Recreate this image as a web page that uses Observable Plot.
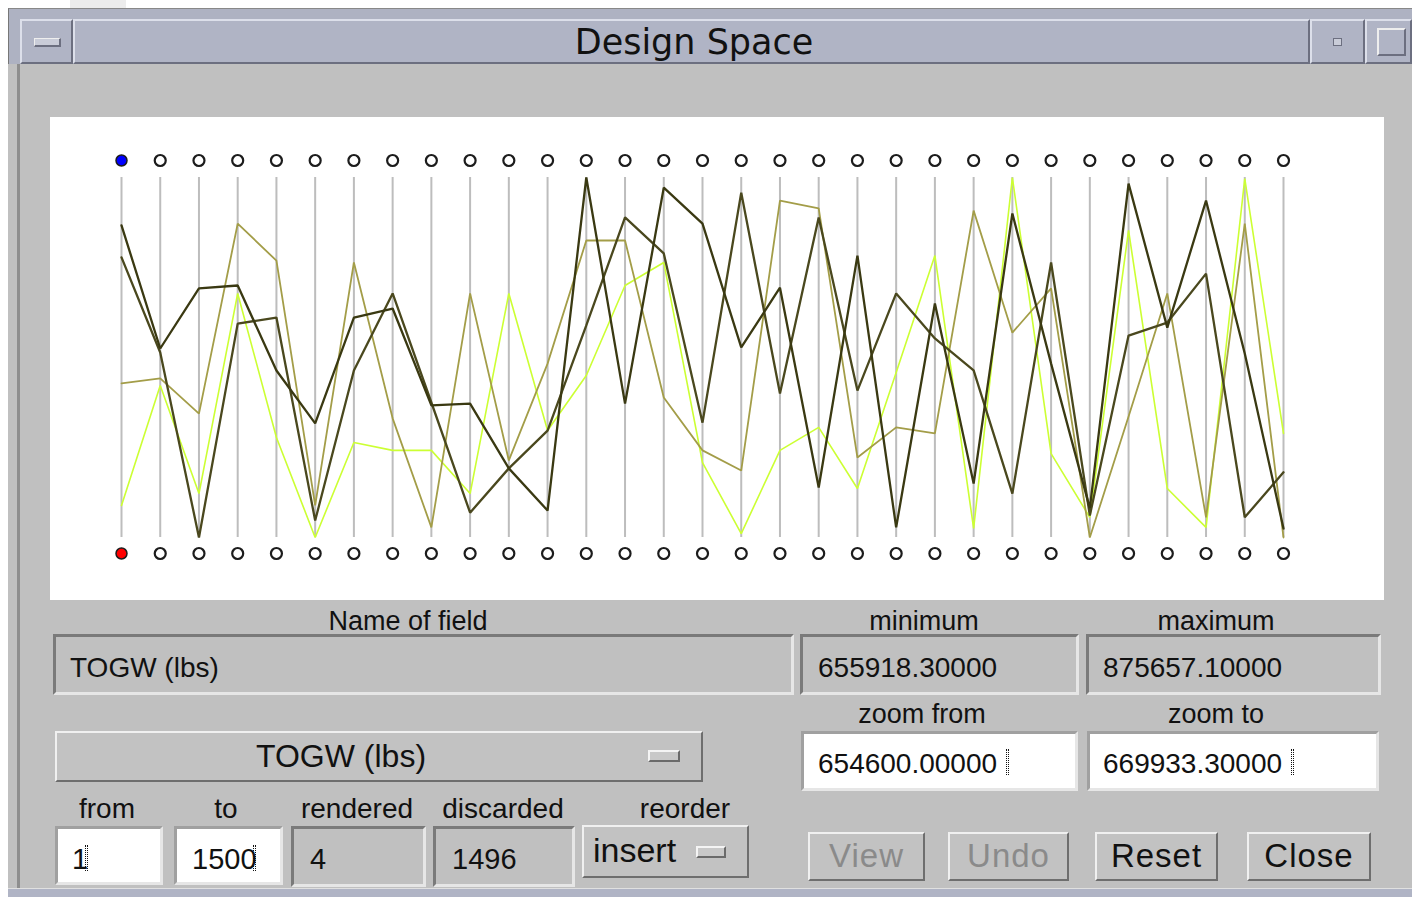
<!DOCTYPE html>
<html><head><meta charset="utf-8">
<script src="https://cdn.jsdelivr.net/npm/d3@7"></script>
<script src="https://cdn.jsdelivr.net/npm/@observablehq/plot@0.6"></script>
<style>
body{margin:0;width:1412px;height:897px;overflow:hidden;background:#fff;position:relative;font-family:"Liberation Sans",Arial,sans-serif;}
.a{position:absolute;box-sizing:border-box;}
.t{position:absolute;white-space:nowrap;color:#111;}
.sunk{background:#c0c0c0;border-style:solid;border-width:3px;border-color:#7a7a7a #e6e6e6 #e6e6e6 #7a7a7a;}
.raised{background:#c2c2c2;border-style:solid;border-width:2px;border-color:#f0f0f0 #6e6e6e #6e6e6e #f0f0f0;}
.white{background:#fff;border-style:solid;border-width:3px;border-color:#a0a0a0 #e6e6e6 #e6e6e6 #a0a0a0;}
.tb{background:#b0b4c5;border-style:solid;border-width:2px;border-color:#dcdfea #6c6f80 #6c6f80 #dcdfea;}
</style></head><body>
<div id="chart" class="a" style="left:50px;top:117px;width:1334px;height:483px;background:#fff;z-index:2"></div>
<script>
// ---- data ----
const axes = [1,2,3,4,5,6,7,8,9,10,11,12,13,14,15,16,17,18,19,20,21,22,23,24,25,26,27,28,29,30,31];
const designs = ["design A","design B","design C","design D"];
const lineColors = ["#3a3912","#4a481e","#a39d48","#ccff33"];
const lineWidths = [2.3, 2.3, 1.8, 1.6];
// normalised position of each design on each axis (0 = bottom, 1 = top)
const designA = [0.867,0.525,0.692,0.700,0.464,0.317,0.611,0.636,0.367,0.372,0.192,0.075,1.000,0.372,0.972,0.872,0.528,0.694,0.139,0.783,0.028,0.650,0.150,0.900,0.483,0.081,0.983,0.583,0.936,0.511,0.025];
const designB = [0.778,0.514,0.000,0.594,0.611,0.047,0.464,0.678,0.375,0.069,0.192,0.297,0.589,0.889,0.789,0.319,0.958,0.400,0.889,0.408,0.678,0.553,0.464,0.122,0.764,0.061,0.561,0.597,0.733,0.056,0.181];
const designC = [0.428,0.442,0.344,0.872,0.769,0.089,0.764,0.331,0.028,0.678,0.214,0.483,0.825,0.825,0.389,0.242,0.186,0.936,0.914,0.222,0.306,0.289,0.908,0.569,0.692,0.000,0.336,0.678,0.056,0.872,0.000];
const designD = [0.089,0.422,0.122,0.678,0.278,0.000,0.264,0.242,0.242,0.122,0.678,0.297,0.450,0.700,0.764,0.208,0.011,0.242,0.306,0.136,0.458,0.783,0.025,1.000,0.233,0.056,0.853,0.136,0.028,0.997,0.289];

// ---- UI text ----
const titleText = "Design Space";
const fieldName = "TOGW (lbs)";
const minText = "655918.30000", maxText = "875657.10000";
const zoomFromText = "654600.00000", zoomToText = "669933.30000";
const fromText = "1", toText = "1500", renderedText = "4", discardedText = "1496", reorderText = "insert";

function box(cls, x1, y1, x2, y2, extra){
  const d = document.createElement('div');
  d.className = 'a ' + cls;
  Object.assign(d.style, {left:x1+'px', top:y1+'px', width:(x2-x1)+'px', height:(y2-y1)+'px'}, extra||{});
  document.body.appendChild(d); return d;
}
function text(str, x, baseline, fs, o){
  o = o || {};
  const d = document.createElement('div');
  d.className = 't'; d.textContent = str;
  d.style.fontSize = fs+'px'; d.style.lineHeight = fs+'px';
  d.style.top = (baseline - 0.846*fs) + 'px';
  d.style.left = x + 'px';
  if (o.center) d.style.transform = 'translateX(-50%)';
  if (o.color) d.style.color = o.color;
  if (o.family) d.style.fontFamily = o.family;
  if (o.ls) d.style.letterSpacing = o.ls + 'px';
  d.style.zIndex = 5;
  document.body.appendChild(d); return d;
}
function caret(x, y){
  box('', x, y, x+3, y+26, {borderLeft:'1px dotted #111', borderRight:'1px dotted #111', zIndex:6});
}

// window frame
box('', 70, 0, 126, 20, {background:'#ececec'});
box('', 8, 8, 1412, 897, {background:'#aeb2c2', borderLeft:'1px solid #777', borderTop:'1px solid #888'});
box('', 8, 64, 1412, 889, {background:'#c0c0c0'});
box('', 17, 64, 20, 889, {background:'#8e8e8e'});
box('', 8, 888, 1412, 897, {background:'#b0b4c5', borderTop:'1px solid #e0e0e0'});
box('tb', 20, 19, 73, 64);
box('', 34, 38, 61, 47, {background:'#c9ccd8', borderBottom:'2px solid #6c6f80', borderRight:'2px solid #6c6f80', borderTop:'1px solid #eee', borderLeft:'1px solid #eee'});
box('tb', 73, 19, 1310, 64);
box('tb', 1310, 19, 1365, 64);
box('', 1333, 38, 1342, 46, {background:'#c9ccd8', border:'1px solid #6c6f80'});
box('tb', 1365, 19, 1412, 64);
box('', 1377, 28, 1406, 56, {border:'2px solid #6c6f80', borderTopColor:'#eee', borderLeftColor:'#eee'});
text(titleText, 694, 55, 35, {center:true, family:'"DejaVu Sans", sans-serif'});

// field rows
text("Name of field", 408, 631, 27, {center:true});
text("minimum", 924, 631, 27, {center:true});
text("maximum", 1216, 631, 27, {center:true});
box('sunk', 53, 634, 794, 695);
text(fieldName, 70, 678, 28);
box('sunk', 800, 634, 1079, 695);
text(minText, 818, 678, 28);
box('sunk', 1086, 634, 1381, 695);
text(maxText, 1103, 678, 28);

text("zoom from", 922, 724, 27, {center:true});
text("zoom to", 1216, 724, 27, {center:true});
box('white', 801, 731, 1078, 791);
text(zoomFromText, 818, 774, 28);
caret(1006, 749);
box('white', 1087, 731, 1379, 791);
text(zoomToText, 1103, 774, 28);
caret(1291, 749);

box('raised', 55, 731, 703, 782);
text(fieldName, 341, 767, 32, {center:true});
box('', 648, 750, 680, 762, {background:'#c8c8c8', borderTop:'2px solid #f4f4f4', borderLeft:'2px solid #f4f4f4', borderBottom:'2px solid #6a6a6a', borderRight:'2px solid #6a6a6a'});

text("from", 107, 819, 28, {center:true});
text("to", 226, 819, 28, {center:true});
text("rendered", 357, 819, 28, {center:true});
text("discarded", 503, 819, 28, {center:true});
text("reorder", 685, 819, 28, {center:true});
box('white', 55, 826, 163, 885);
text(fromText, 72, 870, 29);
caret(85, 845);
box('white', 174, 826, 283, 885);
text(toText, 192, 870, 29);
caret(253, 845);
box('sunk', 291, 826, 426, 887);
text(renderedText, 310, 870, 29);
box('sunk', 433, 826, 575, 887);
text(discardedText, 452, 870, 29);
box('raised', 582, 825, 749, 878);
text(reorderText, 593, 862, 34);
box('', 696, 846, 726, 858, {background:'#c8c8c8', borderTop:'2px solid #f4f4f4', borderLeft:'2px solid #f4f4f4', borderBottom:'2px solid #6a6a6a', borderRight:'2px solid #6a6a6a'});

const buttons = [["View",808,925,true],["Undo",948,1069,true],["Reset",1095,1218,false],["Close",1247,1371,false]];
buttons.forEach(([lab,x1,x2,dis]) => {
  box('raised', x1, 832, x2, 881);
  text(lab, (x1+x2)/2, 867, 33, {center:true, color: dis ? '#8a8a8a' : '#111', ls: 1});
});

// ---- chart ----
const series = [designA, designB, designC, designD];
const rows = [];
designs.forEach((name, s) => series[s].forEach((v, i) => rows.push({design:name, axis:axes[i], value:v})));
const drawOrder = [3, 2, 1, 0];
const lineMarks = drawOrder.map(s => Plot.line(rows.filter(r => r.design === designs[s]), {
  x:"axis", y:"value", stroke: lineColors[s], strokeWidth: lineWidths[s], strokeLinejoin:"miter"
}));

const chart = Plot.plot({
  width:1334, height:483,
  marginLeft:71, marginRight:101, marginTop:43, marginBottom:47,
  x:{type:"point", domain:axes, padding:0, round:false, axis:null},
  y:{domain:[0,1], insetTop:17, insetBottom:16, axis:null},
  style:{background:"#fff", overflow:"visible"},
  marks:[
    Plot.ruleX(axes, {x:d=>d, y1:0, y2:1, stroke:"#bdbdbd", strokeWidth:2}),
    ...lineMarks,
    Plot.dot(axes.slice(1), {x:d=>d, frameAnchor:"top", r:5.5, fill:"#fff", stroke:"#1c1c1c", strokeWidth:2.2}),
    Plot.dot(axes.slice(1), {x:d=>d, frameAnchor:"bottom", r:5.5, fill:"#fff", stroke:"#1c1c1c", strokeWidth:2.2}),
    Plot.dot(axes.slice(0,1), {x:d=>d, frameAnchor:"top", r:5.5, fill:"#0000ff", stroke:"#1c1c1c", strokeWidth:1.5}),
    Plot.dot(axes.slice(0,1), {x:d=>d, frameAnchor:"bottom", r:5.5, fill:"#ff0000", stroke:"#1c1c1c", strokeWidth:1.5})
  ]
});
document.getElementById('chart').appendChild(chart);
</script>
</body></html>
